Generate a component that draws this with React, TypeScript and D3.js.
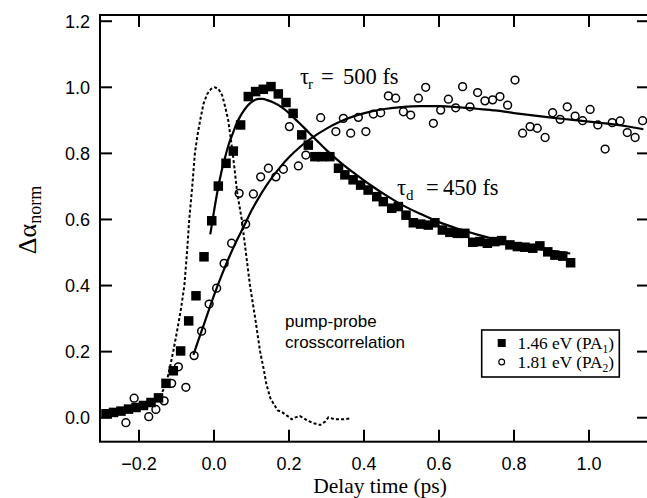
import React from 'react';
import * as d3 from 'd3';

const W = 647;
const H = 498;

// axis ticks
const xTicks = [-0.2, 0.0, 0.2, 0.4, 0.6, 0.8, 1.0];
const yTicks = [0.0, 0.2, 0.4, 0.6, 0.8, 1.0, 1.2];

// PA1 (1.46 eV) filled squares
const pa1X = [-0.288, -0.268, -0.248, -0.228, -0.208, -0.188, -0.168, -0.148, -0.128, -0.1085, -0.089, -0.0675, -0.048, -0.0267, -0.006, 0.0115, 0.032, 0.0515, 0.071, 0.0915, 0.111, 0.1315, 0.152, 0.1715, 0.192, 0.211, 0.234, 0.2515, 0.269, 0.287, 0.309, 0.332, 0.349, 0.371, 0.391, 0.411, 0.434, 0.4515, 0.474, 0.4915, 0.512, 0.5315, 0.551, 0.5715, 0.589, 0.609, 0.629, 0.649, 0.669, 0.69, 0.709, 0.729, 0.749, 0.767, 0.789, 0.809, 0.829, 0.85, 0.869, 0.89, 0.909, 0.93, 0.951];
const pa1Y = [0.012, 0.016, 0.02, 0.026, 0.031, 0.037, 0.046, 0.06, 0.104, 0.142, 0.202, 0.293, 0.369, 0.487, 0.596, 0.701, 0.77, 0.807, 0.886, 0.972, 0.987, 0.994, 1.002, 0.98, 0.954, 0.921, 0.856, 0.825, 0.79, 0.79, 0.79, 0.755, 0.735, 0.72, 0.704, 0.689, 0.669, 0.654, 0.634, 0.639, 0.613, 0.59, 0.586, 0.583, 0.59, 0.568, 0.561, 0.558, 0.558, 0.531, 0.533, 0.528, 0.533, 0.536, 0.523, 0.518, 0.516, 0.513, 0.52, 0.502, 0.492, 0.489, 0.469];

// PA2 (1.81 eV) open circles
const pa2X = [-0.235, -0.213, -0.174, -0.155, -0.133, -0.113, -0.095, -0.075, -0.053, -0.033, -0.013, 0.007, 0.027, 0.047, 0.067, 0.0845, 0.105, 0.1245, 0.145, 0.165, 0.185, 0.201, 0.225, 0.245, 0.2845, 0.325, 0.345, 0.3645, 0.385, 0.405, 0.425, 0.4445, 0.465, 0.4845, 0.505, 0.5245, 0.545, 0.5645, 0.585, 0.6045, 0.625, 0.6445, 0.663, 0.6825, 0.703, 0.7225, 0.743, 0.7625, 0.783, 0.8027, 0.823, 0.843, 0.862, 0.883, 0.903, 0.923, 0.942, 0.963, 0.983, 1.003, 1.0235, 1.043, 1.062, 1.083, 1.102, 1.123, 1.143];
const pa2Y = [-0.015, 0.059, 0.003, 0.025, 0.051, 0.104, 0.154, 0.092, 0.188, 0.262, 0.344, 0.392, 0.467, 0.528, 0.679, 0.586, 0.677, 0.729, 0.755, 0.729, 0.752, 0.881, 0.762, 0.795, 0.908, 0.866, 0.906, 0.861, 0.909, 0.866, 0.919, 0.923, 0.974, 0.967, 0.926, 0.916, 0.967, 1.0, 0.891, 0.931, 0.964, 0.938, 1.002, 0.941, 0.984, 0.959, 0.962, 0.972, 0.946, 1.022, 0.861, 0.881, 0.876, 0.848, 0.923, 0.903, 0.941, 0.913, 0.899, 0.933, 0.886, 0.813, 0.893, 0.898, 0.863, 0.848, 0.899];

// PA1 fit (rise + tau_d decay)
const fit1X = [-0.01, 0.0, 0.01, 0.02, 0.03, 0.04, 0.05, 0.06, 0.07, 0.08, 0.09, 0.10, 0.11, 0.12, 0.13, 0.14, 0.16, 0.18, 0.20, 0.22, 0.24, 0.26, 0.28, 0.30, 0.34, 0.38, 0.42, 0.46, 0.50, 0.55, 0.60, 0.65, 0.70, 0.75, 0.80, 0.85, 0.90, 0.95];
const fit1Y = [0.555, 0.625, 0.69, 0.745, 0.79, 0.83, 0.86, 0.89, 0.912, 0.93, 0.945, 0.955, 0.962, 0.965, 0.965, 0.962, 0.953, 0.94, 0.922, 0.9, 0.878, 0.855, 0.832, 0.81, 0.77, 0.735, 0.702, 0.672, 0.645, 0.617, 0.592, 0.572, 0.555, 0.54, 0.527, 0.515, 0.505, 0.497];

// PA2 fit (tau_r rise)
const fit2X = [-0.055, -0.04, -0.02, 0.0, 0.02, 0.04, 0.06, 0.08, 0.10, 0.12, 0.14, 0.16, 0.18, 0.20, 0.23, 0.26, 0.30, 0.34, 0.38, 0.42, 0.46, 0.50, 0.55, 0.60, 0.65, 0.70, 0.75, 0.80, 0.85, 0.90, 0.95, 1.00, 1.05, 1.10, 1.145];
const fit2Y = [0.19, 0.24, 0.305, 0.37, 0.43, 0.485, 0.535, 0.58, 0.627, 0.667, 0.703, 0.735, 0.763, 0.788, 0.82, 0.846, 0.875, 0.898, 0.915, 0.927, 0.935, 0.94, 0.943, 0.943, 0.94, 0.935, 0.93, 0.922, 0.915, 0.908, 0.902, 0.896, 0.89, 0.882, 0.873];

// pump-probe crosscorrelation (dotted)
const ccX = [-0.15, -0.135, -0.125, -0.117, -0.108, -0.098, -0.088, -0.079, -0.072, -0.066, -0.058, -0.051, -0.044, -0.037, -0.028, -0.018, -0.008, 0.002, 0.012, 0.022, 0.03, 0.038, 0.044, 0.05, 0.056, 0.062, 0.068, 0.074, 0.085, 0.096, 0.11, 0.123, 0.132, 0.14, 0.15, 0.16, 0.17, 0.18, 0.19, 0.2, 0.207, 0.215, 0.229, 0.24, 0.2515, 0.267, 0.283, 0.296, 0.305, 0.323, 0.345, 0.365];
const ccY = [0.05, 0.085, 0.115, 0.155, 0.205, 0.265, 0.33, 0.4, 0.5, 0.6, 0.7, 0.8, 0.855, 0.9, 0.95, 0.98, 0.995, 1.0, 0.995, 0.975, 0.94, 0.9, 0.85, 0.8, 0.74, 0.68, 0.64, 0.6, 0.5, 0.4, 0.3, 0.2, 0.15, 0.1, 0.06, 0.04, 0.022, 0.018, 0.01, 0.002, -0.005, 0.0, 0.005, -0.002, -0.01, -0.017, -0.022, -0.012, 0.001, -0.005, -0.005, -0.002];

const legendLabels = ['1.46 eV (PA', '1.81 eV (PA'];
const legendSubs = ['1', '2'];

const SANS = '"Liberation Sans", Arial, sans-serif';
const SERIF = '"Liberation Serif", "Times New Roman", serif';

export default function App() {
  const left = 100, right = 649, top = 15, bottom = 441.7;
  const x = d3.scaleLinear().domain([-0.304, 1.16]).range([left, right]);
  const y = d3.scaleLinear().domain([-0.0726, 1.2188]).range([bottom, top]);

  const line = d3.line<[number, number]>().x(d => x(d[0])).y(d => y(d[1])).curve(d3.curveMonotoneX);
  const lineLin = d3.line<[number, number]>().x(d => x(d[0])).y(d => y(d[1]));

  const fit1 = fit1X.map((v, i) => [v, fit1Y[i]] as [number, number]);
  const fit2 = fit2X.map((v, i) => [v, fit2Y[i]] as [number, number]);
  const cc = ccX.map((v, i) => [v, ccY[i]] as [number, number]);

  const tl = 12;
  const sq = 9.5;

  return (
    <svg width={W} height={H} style={{ position: 'absolute', left: 0, top: 0, background: '#fff' }}>
      <rect x={0} y={0} width={W} height={H} fill="#fff" />
      {/* crosscorrelation */}
      <path d={lineLin(cc) || ''} fill="none" stroke="#000" strokeWidth={2} strokeDasharray="3,2.2" />
      {/* circles */}
      {pa2X.map((v, i) => (
        <circle key={'c' + i} cx={x(v)} cy={y(pa2Y[i])} r={3.9} fill="none" stroke="#000" strokeWidth={1.5} />
      ))}
      {/* fits */}
      <path d={line(fit2) || ''} fill="none" stroke="#000" strokeWidth={2.2} />
      <path d={line(fit1) || ''} fill="none" stroke="#000" strokeWidth={2.2} />
      {/* squares */}
      {pa1X.map((v, i) => (
        <rect key={'s' + i} x={x(v) - sq / 2} y={y(pa1Y[i]) - sq / 2} width={sq} height={sq} fill="#000" />
      ))}

      {/* frame */}
      <rect x={left} y={top} width={right - left} height={bottom - top} fill="none" stroke="#000" strokeWidth={2} />
      {xTicks.map(t => (
        <g key={'xt' + t}>
          <line x1={x(t)} x2={x(t)} y1={bottom} y2={bottom - tl} stroke="#000" strokeWidth={2} />
          <line x1={x(t)} x2={x(t)} y1={top} y2={top + tl} stroke="#000" strokeWidth={2} />
          <text x={x(t)} y={469.5} textAnchor="middle" fontFamily={SANS} fontSize={18} fill="#000">
            {d3.format('.1f')(t)}
          </text>
        </g>
      ))}
      {yTicks.map(t => (
        <g key={'yt' + t}>
          <line x1={left} x2={left + tl} y1={y(t)} y2={y(t)} stroke="#000" strokeWidth={2} />
          <line x1={right} x2={right - tl} y1={y(t)} y2={y(t)} stroke="#000" strokeWidth={2} />
          <text x={90} y={y(t) + 6.5} textAnchor="end" fontFamily={SANS} fontSize={18} fill="#000">
            {d3.format('.1f')(t)}
          </text>
        </g>
      ))}

      {/* axis titles */}
      <text x={380} y={493} textAnchor="middle" fontFamily={SERIF} fontSize={21.5} fill="#000">Delay time (ps)</text>
      <text transform="translate(36,220) rotate(-90)" textAnchor="middle" fontFamily={SERIF} fontSize={26} fill="#000">
        Δα<tspan fontSize={18} dy={5}>norm</tspan>
      </text>

      {/* annotations */}
      <text x={300} y={83.5} fontFamily={SERIF} fontSize={22.5} fill="#000">
        τ<tspan fontSize={15} dy={5} dx={-1}>r</tspan>
        <tspan x={321} dy={-5}>=</tspan>
        <tspan x={343}>500 fs</tspan>
      </text>
      <text x={397} y={195} fontFamily={SERIF} fontSize={22.5} fill="#000">
        τ<tspan fontSize={15} dy={5}>d</tspan>
        <tspan x={426} dy={-5}>=</tspan>
        <tspan x={443}>450 fs</tspan>
      </text>
      <text x={285} y={327} fontFamily={SANS} fontSize={17} fill="#000">pump-probe</text>
      <text x={285} y={348} fontFamily={SANS} fontSize={17} fill="#000">crosscorrelation</text>

      {/* legend */}
      <rect x={481.7} y={330} width={137.6} height={47} fill="#fff" stroke="#000" strokeWidth={1.6} />
      <rect x={501.7 - 4} y={343 - 4} width={8} height={8} fill="#000" />
      <circle cx={501.7} cy={362} r={2.9} fill="none" stroke="#000" strokeWidth={1.2} />
      {legendLabels.map((l, i) => (
        <text key={'lg' + i} x={517.5} y={348.5 + i * 19} fontFamily={SERIF} fontSize={17.3} fill="#000">
          {l}<tspan fontSize={11.5} dy={4}>{legendSubs[i]}</tspan><tspan dy={-4}>)</tspan>
        </text>
      ))}
    </svg>
  );
}
